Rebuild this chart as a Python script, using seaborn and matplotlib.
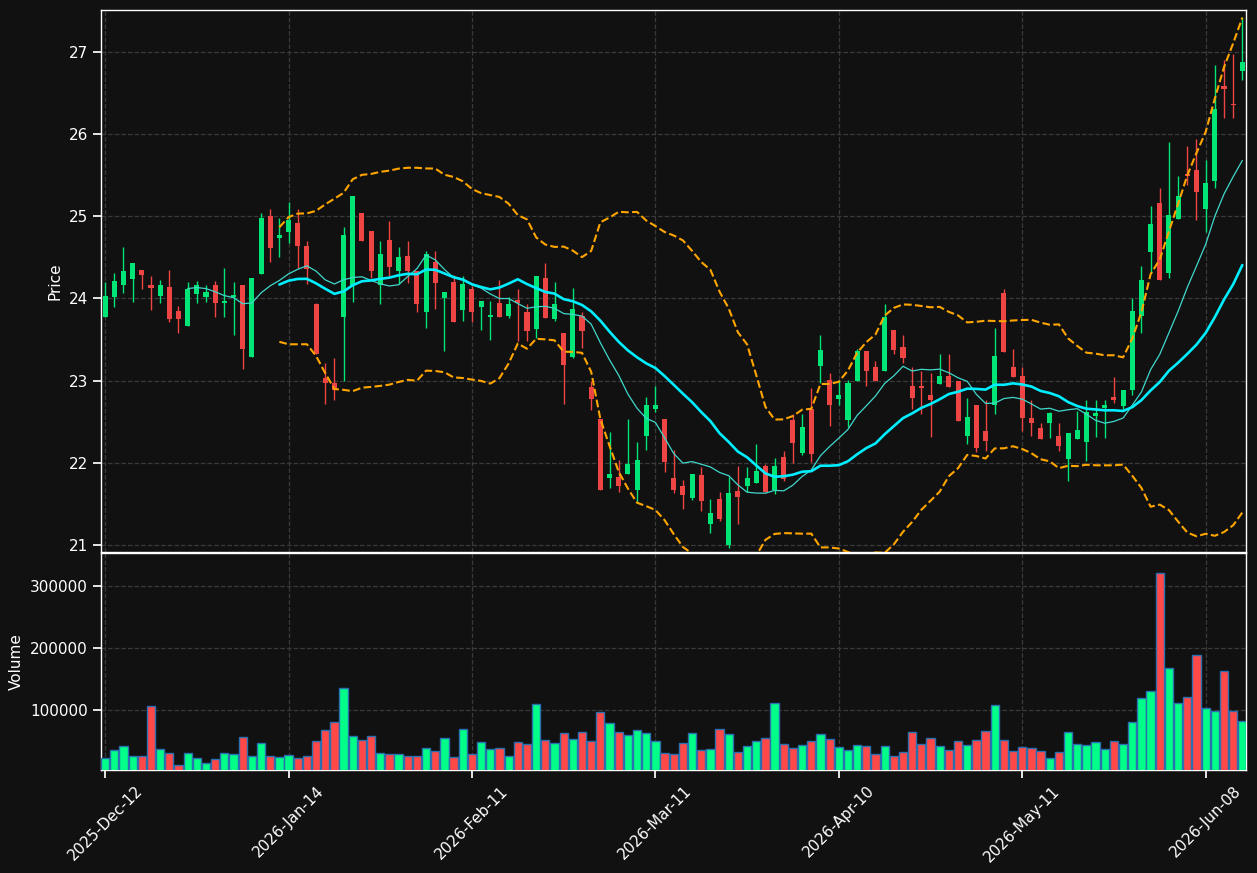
import matplotlib
matplotlib.use("Agg")
import matplotlib.pyplot as plt
import numpy as np
import pandas as pd
import seaborn as sns

# daily candles (index = trading session)
opens = [23.77, 24.02, 24.16, 24.24, 24.35, 24.16, 24.03, 24.14, 23.85, 23.67,
         24.05, 24.02, 24.16, 23.94, 24.02, 24.16, 23.29, 24.30, 25.00, 24.73,
         24.81, 24.92, 24.64, 23.93, 23.03, 22.97, 23.77, 24.16, 25.04, 24.82,
         24.16, 24.71, 24.34, 24.52, 24.34, 23.83, 24.44, 24.00, 24.20, 23.86,
         24.12, 23.90, 23.77, 23.94, 23.79, 23.98, 23.84, 23.63, 24.25, 23.75,
         23.58, 23.29, 23.79, 22.92, 22.53, 21.81, 21.83, 21.86, 21.67, 22.33,
         22.66, 22.53, 21.82, 21.72, 21.57, 21.85, 21.25, 21.56, 21.00, 21.66,
         21.72, 21.76, 21.96, 21.67, 22.07, 22.52, 22.12, 22.66, 23.18, 23.01,
         22.78, 22.52, 22.99, 23.36, 23.16, 23.12, 23.62, 23.41, 22.94, 22.92,
         22.83, 22.96, 23.06, 22.99, 22.33, 22.70, 22.39, 22.70, 24.07, 23.16,
         23.06, 22.55, 22.42, 22.48, 22.33, 22.05, 22.29, 22.25, 22.57, 22.67,
         22.80, 22.69, 22.89, 23.79, 24.56, 25.16, 24.31, 24.97, 25.51, 25.56,
         25.09, 25.43, 26.59, 26.36, 26.77]
highs = [24.20, 24.31, 24.63, 24.43, 24.35, 24.27, 24.23, 24.35, 23.91, 24.20,
         24.21, 24.16, 24.21, 24.37, 24.20, 24.16, 24.25, 25.04, 25.09, 24.98,
         25.17, 25.09, 24.70, 23.95, 23.22, 23.27, 24.87, 25.25, 25.04, 24.82,
         24.70, 24.94, 24.63, 24.70, 24.34, 24.58, 24.58, 24.08, 24.29, 24.27,
         24.15, 23.97, 23.97, 24.23, 24.02, 24.12, 23.93, 24.27, 24.43, 24.20,
         23.58, 24.13, 23.83, 23.00, 22.53, 22.38, 22.03, 22.53, 22.25, 22.80,
         22.93, 22.53, 22.16, 21.79, 21.86, 21.95, 21.56, 21.65, 21.83, 21.96,
         21.95, 22.23, 21.99, 22.06, 22.15, 22.60, 22.60, 22.91, 23.56, 23.09,
         23.01, 23.01, 23.38, 23.36, 23.24, 23.93, 23.62, 23.56, 23.16, 23.12,
         23.09, 23.32, 23.32, 22.99, 22.79, 22.70, 22.77, 23.64, 24.12, 23.38,
         23.16, 22.77, 22.49, 22.62, 22.48, 22.36, 22.63, 22.76, 22.77, 22.76,
         23.04, 22.89, 24.00, 24.40, 25.12, 25.35, 25.90, 25.49, 25.85, 25.94,
         25.68, 26.84, 26.90, 26.98, 27.43]
lows = [23.77, 23.90, 24.07, 23.96, 24.11, 23.86, 23.94, 23.71, 23.58, 23.67,
        23.94, 23.96, 23.77, 23.77, 23.56, 23.14, 23.29, 24.30, 24.44, 24.51,
        24.67, 24.37, 24.17, 23.33, 22.72, 22.76, 23.00, 23.96, 24.70, 24.25,
        23.93, 24.27, 24.18, 24.19, 23.83, 23.64, 23.87, 23.36, 23.71, 23.73,
        23.71, 23.62, 23.50, 23.77, 23.76, 23.48, 23.48, 23.52, 23.76, 23.72,
        22.72, 23.27, 23.40, 22.64, 21.67, 21.69, 21.65, 21.86, 21.51, 22.16,
        22.62, 21.89, 21.63, 21.44, 21.55, 21.41, 21.15, 21.29, 20.96, 21.25,
        21.65, 21.75, 21.65, 21.62, 21.78, 22.00, 22.09, 22.01, 22.97, 22.45,
        22.70, 22.44, 22.99, 22.93, 22.99, 23.12, 23.33, 23.22, 22.66, 22.59,
        22.32, 22.96, 22.92, 22.51, 22.23, 22.13, 22.14, 22.60, 23.35, 23.05,
        22.39, 22.33, 22.29, 22.30, 22.14, 21.78, 22.29, 22.02, 22.32, 22.30,
        22.73, 22.66, 22.83, 23.58, 24.31, 24.23, 24.25, 24.97, 25.38, 24.96,
        24.81, 25.34, 26.19, 26.19, 26.66]
closes = [24.03, 24.21, 24.33, 24.43, 24.29, 24.13, 24.16, 23.75, 23.75, 24.12,
          24.16, 24.08, 23.94, 23.97, 24.04, 23.39, 24.25, 24.98, 24.61, 24.77,
          24.96, 24.64, 24.36, 23.33, 22.97, 22.89, 24.77, 25.25, 24.70, 24.33,
          24.54, 24.38, 24.51, 24.33, 23.93, 24.54, 24.19, 24.08, 23.71, 24.17,
          23.83, 23.97, 23.80, 23.77, 23.93, 23.94, 23.60, 24.27, 23.76, 23.93,
          23.19, 23.87, 23.60, 22.78, 21.67, 21.86, 21.72, 21.99, 22.03, 22.70,
          22.70, 22.01, 21.67, 21.61, 21.86, 21.54, 21.39, 21.32, 21.63, 21.58,
          21.82, 21.90, 21.65, 21.96, 21.80, 22.24, 22.44, 22.11, 23.37, 22.70,
          22.83, 22.97, 23.36, 23.12, 22.99, 23.77, 23.37, 23.27, 22.79, 22.91,
          22.76, 23.06, 22.92, 22.51, 22.56, 22.18, 22.27, 23.30, 23.35, 23.05,
          22.55, 22.48, 22.29, 22.61, 22.20, 22.36, 22.40, 22.62, 22.61, 22.70,
          22.77, 22.89, 23.85, 24.23, 24.91, 24.23, 25.02, 25.25, 25.49, 25.30,
          25.41, 26.31, 26.55, 26.35, 26.88]
volumes = [22500, 35400, 41900, 25800, 25800, 106400, 37000, 30600, 11200, 30600,
           22500, 14500, 20900, 30600, 29000, 56400, 25800, 46700, 25800, 24100,
           27400, 22500, 25800, 49900, 67700, 80600, 135400, 58000, 51600, 58000,
           30600, 29000, 29000, 25800, 25800, 38700, 33800, 54800, 24100, 69300,
           29000, 48300, 37000, 38700, 25800, 48300, 45100, 109600, 51600, 46700,
           62800, 53200, 64500, 49900, 96700, 79000, 64500, 59600, 67700, 62800,
           49900, 30600, 29000, 46700, 62800, 35400, 37000, 69300, 61200, 32200,
           41900, 49900, 54800, 111200, 45100, 38700, 43500, 49900, 61200, 53200,
           40300, 35400, 43500, 41900, 29000, 41900, 25800, 32200, 64500, 45100,
           54800, 41900, 35400, 49900, 43500, 51600, 66100, 108000, 51600, 33800,
           40300, 38700, 33800, 22500, 32200, 64500, 45100, 43500, 48300, 37000,
           49900, 45100, 80600, 119300, 130600, 320900, 167700, 111200, 120900, 188700,
           103200, 98300, 162800, 98300, 82200]

tick_pos = [0, 20, 40, 60, 80, 100, 120]
tick_labels = ["2025-Dec-12", "2026-Jan-14", "2026-Feb-11", "2026-Mar-11",
               "2026-Apr-10", "2026-May-11", "2026-Jun-08"]

BG = "#111111"
UP, DOWN = "#00e676", "#ee4444"
VUP, VDOWN = "#00ff88", "#ff4848"

sns.set_theme(style="dark", rc={
    "axes.facecolor": BG, "figure.facecolor": BG,
    "axes.edgecolor": "white", "axes.labelcolor": "white",
    "text.color": "white", "xtick.color": "white", "ytick.color": "white",
    "xtick.bottom": True, "ytick.left": True,
    "grid.color": "#3a3a3a", "grid.linestyle": "--", "grid.linewidth": 0.9,
})
plt.rcParams["font.family"] = ["DejaVu Sans"]

df = pd.DataFrame({"open": opens, "high": highs, "low": lows,
                   "close": closes, "volume": volumes})
df["idx"] = np.arange(len(df))
df["ma10"] = df["close"].rolling(10).mean()
df["ma20"] = df["close"].rolling(20).mean()
sd = df["close"].rolling(20).std(ddof=0)
df["bb_up"] = df["ma20"] + 2 * sd
df["bb_lo"] = df["ma20"] - 2 * sd

up = df["close"] >= df["open"]
ccol = np.where(up, UP, DOWN)
vcol = np.where(up, VUP, VDOWN)

fig = plt.figure(figsize=(12.57, 8.73), dpi=100)
ax = fig.add_axes([0.08035, 0.3677, 0.9109, 0.62085])
axv = fig.add_axes([0.08035, 0.118, 0.9109, 0.24857], sharex=ax)

# candles
ax.vlines(df["idx"], df["low"], df["high"], colors=ccol, linewidth=1, zorder=2)
body = np.maximum((df["close"] - df["open"]).abs(), 0.02)
ax.bar(df["idx"], body, bottom=np.minimum(df["open"], df["close"]),
       width=0.55, color=ccol, linewidth=0, zorder=3)

# moving averages and bands
sns.lineplot(data=df, x="idx", y="ma10", ax=ax, color="#40d8cc", linewidth=0.9, zorder=4)
sns.lineplot(data=df, x="idx", y="ma20", ax=ax, color="#00eeff", linewidth=1.9, zorder=4)
sns.lineplot(data=df, x="idx", y="bb_up", ax=ax, color="#ffa500", linewidth=1.5,
             linestyle="--", zorder=4)
sns.lineplot(data=df, x="idx", y="bb_lo", ax=ax, color="#ffa500", linewidth=1.5,
             linestyle="--", zorder=4)

ax.set_ylim(20.915, 27.51)
ax.set_xlim(-0.45, 124.4)
ax.set_yticks([21, 22, 23, 24, 25, 26, 27])
ax.set_ylabel("Price", fontsize=11)
ax.set_xlabel("")
ax.grid(True)
ax.tick_params(labelbottom=False, labelsize=11)

# volume
axv.bar(df["idx"], df["volume"], width=0.9, color=vcol,
        edgecolor="#2a6fb0", linewidth=1, zorder=3)
axv.set_ylim(3500, 353500)
axv.set_yticks([100000, 200000, 300000])
axv.ticklabel_format(style="plain", axis="y")
axv.set_ylabel("Volume", fontsize=11)
axv.set_xticks(tick_pos)
axv.set_xticklabels(tick_labels, rotation=45)
axv.tick_params(labelsize=11)
axv.grid(True)

for a in (ax, axv):
    for s in a.spines.values():
        s.set_color("white")
        s.set_linewidth(1)

fig.savefig("out.png", dpi=100, facecolor=BG)
